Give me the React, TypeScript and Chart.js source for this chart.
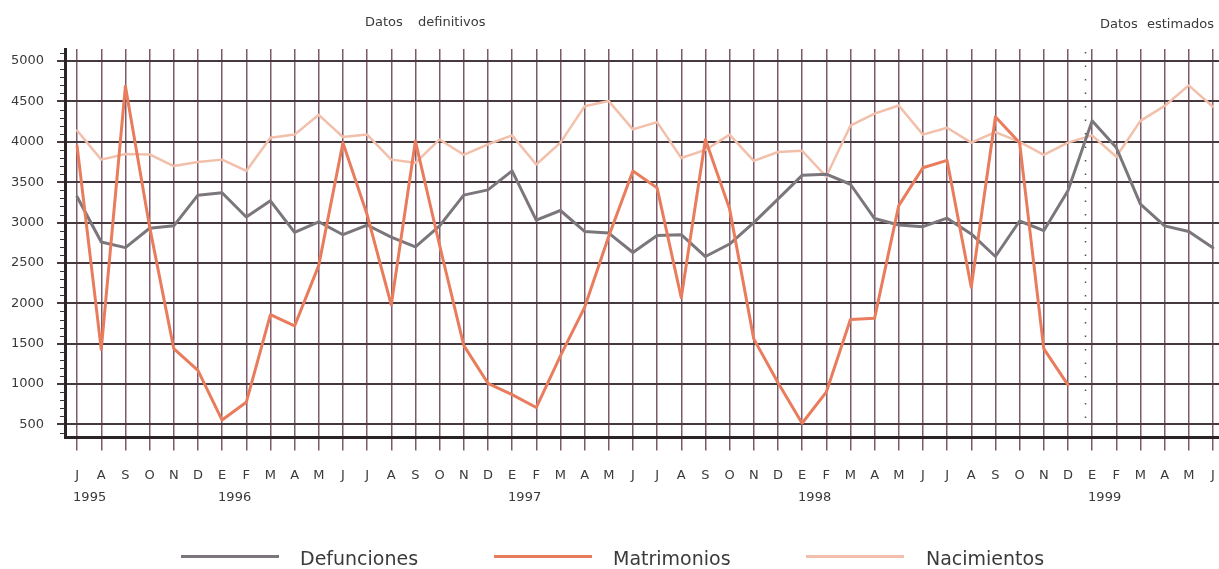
import React, { useEffect, useRef } from "react";
import { Chart, registerables } from "chart.js";

Chart.register(...registerables);

// Month initials (Spanish), July 1995 to June 1999
const months = [
  "J", "A", "S", "O", "N", "D",
  "E", "F", "M", "A", "M", "J", "J", "A", "S", "O", "N", "D",
  "E", "F", "M", "A", "M", "J", "J", "A", "S", "O", "N", "D",
  "E", "F", "M", "A", "M", "J", "J", "A", "S", "O", "N", "D",
  "E", "F", "M", "A", "M", "J",
];

const yearLabels = ["1995", "1996", "1997", "1998", "1999"];
const yearStartIndex = [0, 6, 18, 30, 42];

const yTickValues = [500, 1000, 1500, 2000, 2500, 3000, 3500, 4000, 4500, 5000];

const defunciones = [
  3320, 2760, 2690, 2930, 2960, 3340,
  3370, 3070, 3270, 2880, 3010, 2850, 2970, 2820, 2700, 2960, 3340, 3405,
  3640, 3030, 3150, 2890, 2870, 2630, 2840, 2850, 2580, 2735, 3000, 3290,
  3585, 3600, 3475, 3050, 2970, 2950, 3055, 2860, 2580, 3020, 2900, 3395,
  4260, 3930, 3230, 2960, 2890, 2690,
];

const matrimonios = [
  3950, 1430, 4690, 2950, 1440, 1170,
  555, 775, 1860, 1720, 2470, 3990, 3100, 1980, 4010, 2720, 1480, 1010,
  870, 710, 1350, 1950, 2830, 3640, 3430, 2070, 4030, 3170, 1560, 1020,
  515, 900, 1800, 1815, 3210, 3680, 3770, 2200, 4310, 3990, 1440, 990,
  null, null, null, null, null, null,
];

const nacimientos = [
  4140, 3780, 3850, 3845, 3700, 3750,
  3780, 3640, 4050, 4090, 4335, 4060, 4090, 3780, 3740, 4030, 3840, 3970,
  4080, 3720, 3990, 4440, 4505, 4155, 4245, 3800, 3900, 4090, 3765, 3875,
  3890, 3570, 4200, 4350, 4450, 4090, 4175, 3990, 4120, 4000, 3840, 3990,
  4080, 3815, 4260, 4445, 4700, 4435,
];

const seriesNames = ["Defunciones", "Matrimonios", "Nacimientos"];
const seriesColors = ["#7b767b", "#e97c5c", "#f2bfab"];

const yMin = 340;
const yMax = 5150;
const yStep = 500;
const yMinorStep = 100;
// boundary between definitive and estimated data (between Dec 1998 and Jan 1999)
const dividerPosition = 41.7;

const FONT = '"DejaVu Sans", "Liberation Sans", sans-serif';

const extrasPlugin = {
  id: "extras",
  afterDraw(chart: any) {
    const { ctx, chartArea, scales } = chart;
    const x = scales.x;
    const y = scales.y;
    ctx.save();
    // minor ticks on the y axis
    ctx.strokeStyle = "#3b3034";
    ctx.lineWidth = 1;
    for (let v = yMin + (yMinorStep - (yMin % yMinorStep)); v < yMax; v += yMinorStep) {
      if (v % yStep === 0) continue;
      const py = Math.round(y.getPixelForValue(v)) + 0.5;
      ctx.beginPath();
      ctx.moveTo(chartArea.left - 5, py);
      ctx.lineTo(chartArea.left, py);
      ctx.stroke();
    }
    // dotted divider line
    const dx = Math.round(x.getPixelForValue(dividerPosition)) + 0.5;
    ctx.strokeStyle = "#555055";
    ctx.lineWidth = 1.5;
    ctx.setLineDash([1.5, 12]);
    ctx.beginPath();
    ctx.moveTo(dx, chartArea.top + 3);
    ctx.lineTo(dx, y.getPixelForValue(500));
    ctx.stroke();
    ctx.setLineDash([]);
    // year labels below the month initials
    ctx.fillStyle = "#3a3a3a";
    ctx.font = `13px ${FONT}`;
    ctx.textAlign = "left";
    ctx.textBaseline = "middle";
    yearLabels.forEach((yl, i) => {
      const px = x.getPixelForValue(yearStartIndex[i]);
      ctx.fillText(yl, px - 4, chartArea.bottom + 60);
    });
    ctx.restore();
  },
};

export default function App() {
  const ref = useRef<HTMLCanvasElement>(null);

  useEffect(() => {
    const canvas = ref.current!;
    const chart = new Chart(canvas, {
      type: "line",
      data: {
        labels: months,
        datasets: [
          {
            label: seriesNames[0],
            data: defunciones,
            borderColor: seriesColors[0],
            backgroundColor: seriesColors[0],
            borderWidth: 3,
            order: 1,
          },
          {
            label: seriesNames[1],
            data: matrimonios,
            borderColor: seriesColors[1],
            backgroundColor: seriesColors[1],
            borderWidth: 3,
            order: 0,
          },
          {
            label: seriesNames[2],
            data: nacimientos,
            borderColor: seriesColors[2],
            backgroundColor: seriesColors[2],
            borderWidth: 2.5,
            order: 2,
          },
        ],
      },
      options: {
        responsive: false,
        animation: false,
        devicePixelRatio: 1,
        layout: { padding: { left: 11, top: 49, right: 15, bottom: 69 } },
        elements: {
          point: { radius: 0, hoverRadius: 0 },
          line: { tension: 0, borderJoinStyle: "round", borderCapStyle: "round" },
        },
        plugins: {
          legend: { display: false },
          tooltip: { enabled: false },
        },
        scales: {
          x: {
            type: "category",
            offset: true,
            grid: {
              offset: false,
              color: "#7d5a6b",
              lineWidth: 1.5,
              tickLength: 13,
              drawTicks: true,
            },
            border: { display: true, color: "#2b2326", width: 3 },
            ticks: {
              autoSkip: false,
              maxRotation: 0,
              padding: 17,
              color: "#3a3a3a",
              font: { family: FONT, size: 13 },
            },
          },
          y: {
            type: "linear",
            min: yMin,
            max: yMax,
            afterBuildTicks: (scale: any) => {
              scale.ticks = yTickValues.map((v) => ({ value: v }));
            },
            afterFit: (scale: any) => {
              scale.width = 54;
            },
            grid: { color: "#463a40", lineWidth: 2, tickLength: 8 },
            border: { display: true, color: "#2b2326", width: 3 },
            ticks: {
              padding: 13,
              color: "#3a3a3a",
              font: { family: FONT, size: 13 },
              callback: (v: any) => String(v),
            },
          },
        },
      },
      plugins: [extrasPlugin],
    });
    return () => chart.destroy();
  }, []);

  const headerStyle: React.CSSProperties = {
    position: "absolute",
    font: `13px ${FONT}`,
    lineHeight: "16px",
    color: "#3a3a3a",
    whiteSpace: "pre",
  };
  const legendTextStyle: React.CSSProperties = {
    position: "absolute",
    font: `19px ${FONT}`,
    lineHeight: "24px",
    color: "#3a3a3a",
    whiteSpace: "pre",
  };
  const legendLeft = [181, 494, 806];
  const legendTextLeft = [300, 613, 926];

  return (
    <div
      style={{
        position: "fixed",
        left: 0,
        top: 0,
        width: 1219,
        height: 569,
        overflow: "hidden",
        background: "#ffffff",
      }}
    >
      <canvas ref={ref} width={1240} height={569} style={{ display: "block", width: 1240, height: 569 }} />
      <div style={{ ...headerStyle, left: 365, top: 14 }}>Datos</div>
      <div style={{ ...headerStyle, left: 418, top: 14 }}>definitivos</div>
      <div style={{ ...headerStyle, left: 1100, top: 16 }}>Datos</div>
      <div style={{ ...headerStyle, left: 1147, top: 16 }}>estimados</div>
      {seriesNames.map((name, i) => (
        <React.Fragment key={name}>
          <div
            style={{
              position: "absolute",
              left: legendLeft[i],
              top: 555,
              width: 98,
              height: 3,
              background: seriesColors[i],
            }}
          />
          <div style={{ ...legendTextStyle, left: legendTextLeft[i], top: 546 }}>{name}</div>
        </React.Fragment>
      ))}
    </div>
  );
}
